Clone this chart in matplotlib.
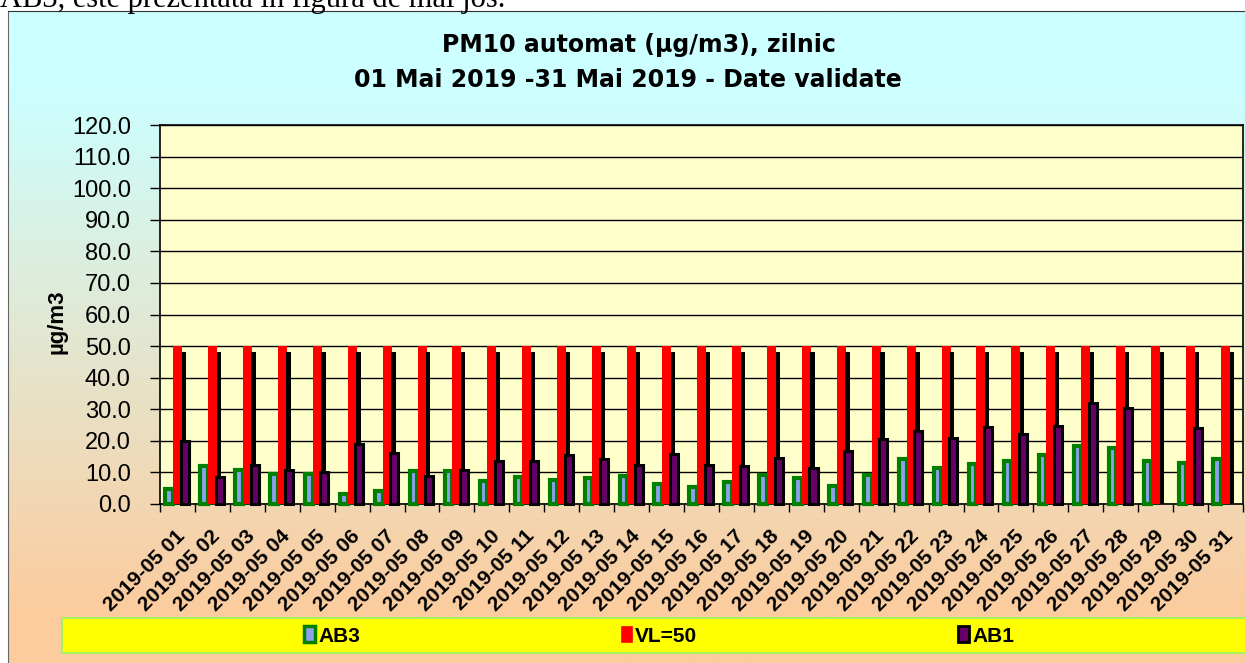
import numpy as np
import matplotlib.pyplot as plt
from matplotlib.patches import Rectangle, Patch
import matplotlib.transforms as mtransforms

days = ["2019-05 %02d" % d for d in range(1, 32)]
ab3 = [4.9, 12.1, 10.9, 9.5, 9.4, 3.2, 4.0, 10.4, 10.5, 7.4, 8.4, 7.5, 8.3, 8.8, 6.3, 5.5,
       7.1, 9.2, 8.3, 5.6, 9.1, 14.2, 11.4, 12.8, 13.5, 15.5, 18.3, 17.7, 13.5, 13.0, 14.4]
ab1 = [19.8, 8.6, 12.2, 10.8, 10.2, 19.0, 16.2, 9.0, 10.8, 13.5, 13.5, 15.5, 14.3, 12.5, 15.7, 12.3,
       12.0, 14.5, 11.4, 16.7, 20.6, 23.2, 20.8, 24.4, 22.3, 24.8, 31.9, 30.4, np.nan, 24.0, np.nan]
vl = [50] * 31
black48 = [48] * 31
yticks = np.arange(0, 121, 10)

W, H = 1245, 663
fig = plt.figure(figsize=(W / 100, H / 100), dpi=100)
fig.patch.set_facecolor("white")

# gradient background of chart area
bg = fig.add_axes([8 / W, 0, 1 - 8 / W, (H - 11) / H], zorder=-5)
rows = np.linspace(0, 1, 300)
c_top = np.array([204, 255, 255]) / 255
c_bot = np.array([252, 204, 158]) / 255
t = np.clip((rows * (H - 11) - 80) / 520, 0, 1)
grad = (c_top[None, :] * (1 - t[:, None]) + c_bot[None, :] * t[:, None])[:, None, :]
bg.imshow(grad, aspect="auto", extent=[0, 1, 1, 0])
bg.set_xlim(0, 1)
bg.set_ylim(1, 0)
bg.set_xticks([])
bg.set_yticks([])
for s in ["right", "bottom"]:
    bg.spines[s].set_visible(False)
bg.spines["left"].set_color("#666666")
bg.spines["top"].set_color("#333333")

# text of the document above the chart (cut off in the original too)
fig.text(0, 1 - 7 / H, "AB3, este prezentata in figura de mai jos.", family="Liberation Serif",
         fontsize=22, va="baseline", ha="left")

ax = fig.add_axes([160 / W, (H - 504) / H, (1243 - 160) / W, (504 - 125) / H])
ax.set_facecolor("#FFFFCC")
x = np.arange(31)
ax.bar(x - 0.238, ab3, width=0.215, color="#8FA0F0", edgecolor="#008000", linewidth=3.0,
       clip_on=False, zorder=3)
ax.bar(x + 0.0, vl, width=0.258, color="#FF0000", linewidth=0, zorder=4)
ax.bar(x + 0.18, black48, width=0.123, color="black", linewidth=0, zorder=5)
ax.bar(x + 0.206, ab1, width=0.23, color="#660066", edgecolor="black", linewidth=2.2,
       clip_on=False, zorder=6)

ax.set_xlim(-0.5, 30.5)
ax.set_ylim(0, 120)
ax.set_yticks(yticks)
ax.set_yticklabels(["%.1f" % v for v in yticks], family="Liberation Sans", fontsize=17)
ax.yaxis.grid(True, color="black", linewidth=1.0)
ax.set_axisbelow(True)
ax.tick_params(axis="y", length=7, width=1, pad=14, direction="out")
ax.set_xticks(x)
ax.set_xticks(np.arange(-0.5, 31, 1), minor=True)
ax.tick_params(axis="x", which="major", length=0, pad=21)
ax.tick_params(axis="x", which="minor", length=6, width=1, direction="out")
ax.set_xticklabels(days, rotation=45, ha="right", va="center", rotation_mode="anchor",
                   family="Liberation Sans", fontweight="bold", fontsize=15)
off = mtransforms.ScaledTranslation(5 / 100, 0, fig.dpi_scale_trans)
for lbl in ax.get_xticklabels():
    lbl.set_transform(lbl.get_transform() + off)
for s in ax.spines.values():
    s.set_color("black")
    s.set_linewidth(1.2)

fig.text(57 / W, 1 - 322 / H, "µg/m3", rotation=90, ha="center", va="center",
         family="Liberation Sans", fontweight="bold", fontsize=16)

fig.text(639 / W, 1 - 45 / H, "PM10 automat (µg/m3), zilnic", ha="center", va="center",
         fontsize=17, fontweight="bold")
fig.text(628 / W, 1 - 80 / H, "01 Mai 2019 -31 Mai 2019 - Date validate", ha="center",
         va="center", fontsize=17, fontweight="bold")

# legend band
fig.patches.append(Rectangle((62 / W, 1 - 653 / H), (1260 - 62) / W, 35 / H,
                             transform=fig.transFigure, facecolor="#FFFF00",
                             edgecolor="#A8F060", linewidth=1.5, zorder=1))
handles = [Patch(facecolor="#8FA0F0", edgecolor="#008000", linewidth=2.5),
           Patch(facecolor="#FF0000", edgecolor="#FF0000", linewidth=0.5),
           Patch(facecolor="#660066", edgecolor="black", linewidth=2)]
fig.legend(handles, ["AB3", "VL=50", "AB1"], loc="center", bbox_to_anchor=(659 / W, 1 - 636 / H),
           ncol=3, frameon=False, columnspacing=12.5, handlelength=0.55, handleheight=0.8,
           handletextpad=0.15, prop={"family": "Liberation Sans", "weight": "bold", "size": 15})

fig.savefig("out.png", dpi=100)
